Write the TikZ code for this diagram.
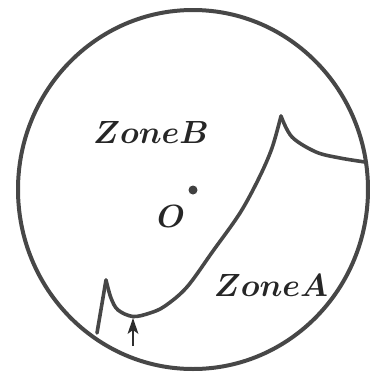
\documentclass[tikz,border=0pt]{standalone}
\usepackage{amsmath}
\newcommand{\zbig}[1]{\scalebox{1.29}{\Huge$\boldsymbol{#1}$}}
\begin{document}
\begin{tikzpicture}[x=1pt,y=-1pt,
  edge/.style={draw=black!72,line width=3.6pt,line cap=round,line join=round},
  zlabel/.style={inner sep=0pt,text=black!85}]
\useasboundingbox (0,0) rectangle (375,376);
% outer boundary
\draw[edge,line width=4pt] (193,189.5) ellipse [x radius=175, y radius=179.5];
% centre dot
\fill[black!75] (193,190) circle (4.5);
\node[zlabel] (O) at (171,216) {\zbig{O}};
\node[zlabel] (zb) at (151,132) {\zbig{ZoneB}};
\node[zlabel] (za) at (271,285) {\zbig{ZoneA}};
% coordinates
\coordinate (p0) at (97,333);
\coordinate (c1) at (106,280);
\coordinate (c2) at (281,116);
\coordinate (p3) at (365,162);
\coordinate (bot) at (133,318);
\coordinate (tail) at (133,346);
% boundary curves
\draw[edge] (p0) -- (c1);
\draw[edge] plot[smooth,tension=0.55] coordinates {(106,280) (111,298) (118,310) (133,316.5) (150,313) (165,306) (187,287) (213,251) (240,213) (259,178) (272,148) (281,116)};
\draw[edge] plot[smooth,tension=0.55] coordinates {(281,116) (292,137) (316,152) (340,158) (365,162)};
% arrow
\draw[black!82,line width=2pt] (tail) -- ([yshift=-10pt]bot);
\fill[black!82] (bot) -- ++(-5.5,16) -- ++(5.5,-4) -- ++(5.5,4) -- cycle;
\end{tikzpicture}
\end{document}
